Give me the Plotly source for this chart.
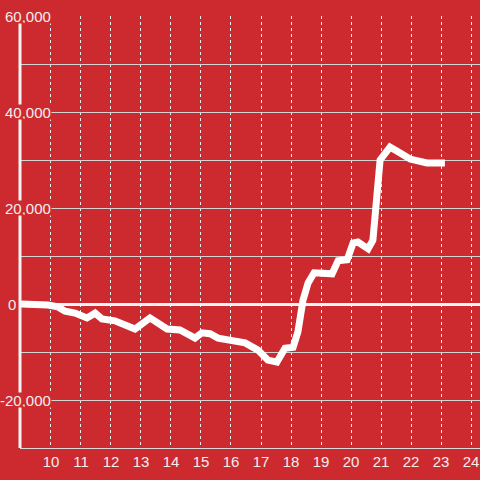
import plotly.graph_objects as go

# Data (hours of day, value)
hours = [9.0, 9.63, 9.9, 10.23, 10.47, 10.8, 11.2, 11.47, 11.7, 12.13, 12.47, 12.8,
         13.3, 13.87, 14.3, 14.8, 15.03, 15.3, 15.57, 16.03, 16.47, 16.9, 17.23, 17.53,
         17.8, 18.07, 18.23, 18.4, 18.57, 18.77, 19.2, 19.37, 19.57, 19.87, 20.07, 20.23,
         20.57, 20.73, 20.97, 21.3, 21.57, 21.97, 22.53, 23.13]
values = [0, 0, -200, -600, -1500, -1900, -2900, -1900, -3100, -3500, -4400, -5200,
          -2900, -5200, -5400, -7100, -6000, -6200, -7100, -7500, -8100, -9600, -11700, -12100,
          -9200, -9000, -5800, 800, 4400, 6500, 6500, 6300, 9000, 9200, 12700, 12900,
          11500, 13300, 30000, 32700, 31700, 30200, 29400, 29400]

x_ticks = list(range(10, 25))
x_tick_labels = [str(t) for t in x_ticks]
y_label_vals = [60000, 40000, 20000, 0, -20000]
y_label_text = ["60,000", "40,000", "20,000", "0", "-20,000"]

BG = "#cc2a2f"
FG = "#f2eeee"
FONT = "Liberation Sans, Arial, sans-serif"

fig = go.Figure()
fig.add_trace(go.Scatter(x=hours, y=values, mode="lines",
                         line=dict(color="#ffffff", width=7), hoverinfo="skip"))

fig.update_layout(
    width=480, height=480,
    margin=dict(l=20, r=0, t=16, b=32),
    paper_bgcolor=BG, plot_bgcolor=BG,
    showlegend=False,
    font=dict(family=FONT, size=15, color=FG),
)
fig.update_xaxes(
    range=[8.967, 24.3], tickvals=x_ticks, ticktext=x_tick_labels,
    showgrid=True, gridcolor="#eeeeee", gridwidth=1, griddash="dot",
    showline=True, linecolor="#d9d9d9", linewidth=1,
    zeroline=False, ticks="", tickfont=dict(family=FONT, size=15, color=FG),
)
fig.update_yaxes(
    range=[-30000, 60000], dtick=10000, tick0=0,
    showgrid=True, gridcolor="#d4d4d4", gridwidth=1,
    zeroline=True, zerolinecolor="#f4f4f4", zerolinewidth=3,
    showticklabels=False, ticks="", showline=False,
)

# y axis line (thick, white)
fig.add_shape(type="line", xref="paper", yref="y", x0=0, x1=0,
              y0=-30000, y1=60000, line=dict(color="#f4f4f4", width=3), layer="above")

for v, t in zip(y_label_vals, y_label_text):
    fig.add_annotation(
        xref="paper", yref="y", x=0, y=v, text=t, showarrow=False,
        xanchor="right", yanchor="middle",
        xshift=(-3 if v == 0 else 32),
        bgcolor=BG, borderpad=0, height=14,
        font=dict(family=FONT, size=15, color=FG),
    )

fig.write_html("out.html", config={"displayModeBar": False},
               post_script="document.body.style.margin='0';")
